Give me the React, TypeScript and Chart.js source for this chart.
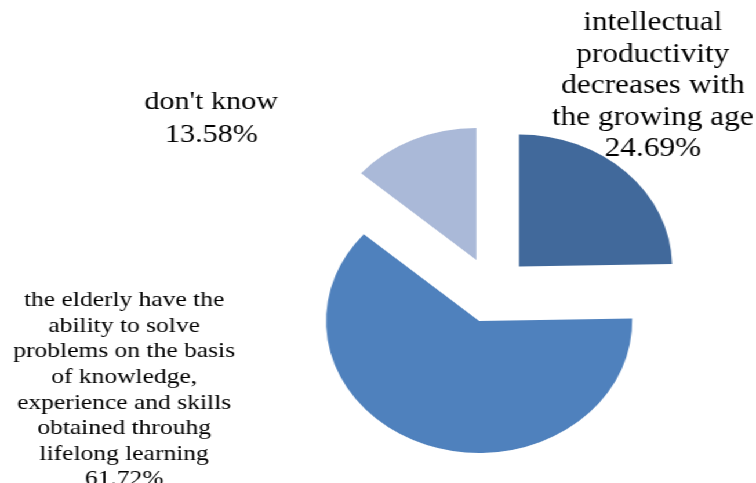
import React, { useEffect, useRef } from "react";
import { Chart, registerables } from "chart.js";

Chart.register(...registerables);

const categories = [
  "intellectual productivity decreases with the growing age",
  "the elderly have the ability to solve problems on the basis of knowledge, experience and skills obtained throuhg lifelong learning",
  "don't know",
];
const values = [24.69, 61.72, 13.58];
const labelLines = [
  ["intellectual", "productivity", "decreases with", "the growing age", "24.69%"],
  [
    "the elderly have the",
    "ability to solve",
    "problems on the basis",
    "of knowledge,",
    "experience and skills",
    "obtained throuhg",
    "lifelong learning",
    "61.72%",
  ],
  ["don't know", "13.58%"],
];
const colors = ["#41699B", "#4F81BD", "#AAB9D8"];

// label layout (relative to the outer edge of each exploded slice at its mid angle)
const labelNudge = [
  { dx: 23, dy: -86, size: 27, lh: 31.5 },
  { dx: -261, dy: -55, size: 22, lh: 25.6 },
  { dx: -174, dy: -21, size: 26, lh: 33 },
];

const W = 652;
const H = 483;
const SX = 756 / W;
const EXPLODE = 33; // explode distance in px

// draws every arc exploded by the same distance without growing its radius
const explodePlugin = {
  id: "explode",
  beforeDatasetsDraw(chart: any) {
    const ctx = chart.ctx;
    const meta = chart.getDatasetMeta(0);
    meta.data.forEach((arc: any) => {
      const p = arc.getProps(["startAngle", "endAngle"], true);
      const mid = (p.startAngle + p.endAngle) / 2;
      ctx.save();
      ctx.translate(Math.cos(mid) * EXPLODE, Math.sin(mid) * EXPLODE);
      arc.draw(ctx);
      ctx.restore();
    });
    return false;
  },
  afterDraw(chart: any) {
    const ctx = chart.ctx;
    const meta = chart.getDatasetMeta(0);
    meta.data.forEach((arc: any, i: number) => {
      const p = arc.getProps(["x", "y", "startAngle", "endAngle", "outerRadius"], true);
      const mid = (p.startAngle + p.endAngle) / 2;
      const r = p.outerRadius + EXPLODE;
      const ax = p.x + Math.cos(mid) * r;
      const ay = p.y + Math.sin(mid) * r;
      const n = labelNudge[i];
      const lines = labelLines[i];
      const cx = ax + n.dx;
      const cy = ay + n.dy;
      ctx.save();
      ctx.fillStyle = "#000000";
      ctx.font = `${n.size}px "Liberation Serif", "Times New Roman", serif`;
      ctx.textAlign = "center";
      ctx.textBaseline = "middle";
      const top = cy - ((lines.length - 1) * n.lh) / 2;
      lines.forEach((t, k) => ctx.fillText(t, cx, top + k * n.lh));
      ctx.restore();
    });
  },
};

export default function App() {
  const ref = useRef<HTMLCanvasElement | null>(null);
  useEffect(() => {
    if (!ref.current) return;
    const chart = new Chart(ref.current, {
      type: "pie",
      data: {
        labels: categories,
        datasets: [
          {
            data: values,
            backgroundColor: colors,
            borderWidth: 0,
            offset: 0,
            hoverOffset: 0,
          } as any,
        ],
      },
      options: {
        responsive: false,
        animation: false,
        devicePixelRatio: 1,
        radius: 132,
        layout: { padding: { left: 200, right: 3, top: 97, bottom: 0 } },
        plugins: {
          legend: { display: false },
          tooltip: { enabled: false },
        },
      } as any,
      plugins: [explodePlugin],
    });
    return () => chart.destroy();
  }, []);
  return (
    <div
      style={{
        position: "absolute",
        left: 0,
        top: 0,
        width: W,
        height: H,
        transform: `scaleX(${SX})`,
        transformOrigin: "0 0",
        background: "#ffffff",
      }}
    >
      <canvas ref={ref} width={W} height={H} style={{ display: "block" }} />
    </div>
  );
}
